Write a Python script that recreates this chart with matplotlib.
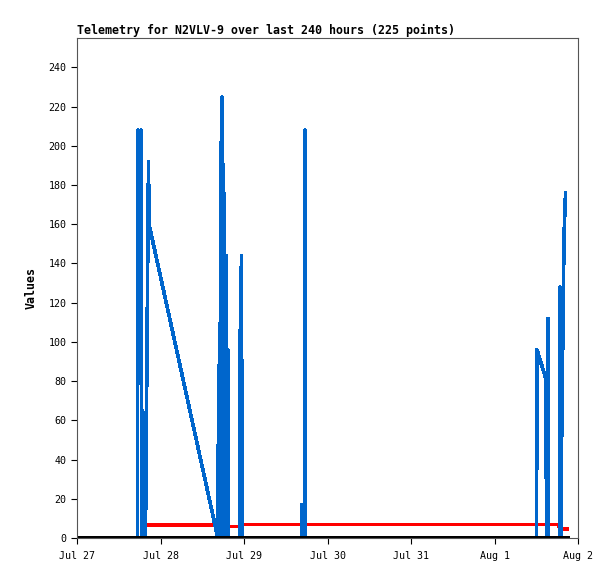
import numpy as np
import pandas as pd
import matplotlib
matplotlib.use('Agg')
import matplotlib.pyplot as plt

inicio = pd.Timestamp('2023-07-27 00:00')

# horas desde Jul 27 00:00 e valores da serie azul
horas_azul = [17.39, 17.53, 17.96, 18.40, 18.68, 19.55, 19.55, 19.69, 20.55, 20.70,
              40.24, 40.38, 40.82, 41.10, 41.25, 41.68, 41.96, 42.11, 42.25, 42.54,
              42.83, 42.97, 43.40, 43.55, 46.85, 46.85, 47.28, 47.43,
              64.53, 64.67, 64.82, 65.53, 65.53, 65.68,
              132.07, 132.22, 134.80, 134.95, 135.38, 135.52,
              138.69, 138.83, 139.12, 139.12, 139.40, 139.69, 139.98, 140.41]
valores_azul = [0, 208, 200, 208, 0, 0, 64, 3, 192, 160,
                2, 0, 88, 0, 176, 225, 176, 0, 176, 0,
                144, 0, 96, 0, 0, 96, 144, 0,
                0, 17, 0, 0, 208, 0,
                0, 96, 81, 0, 112, 0,
                0, 128, 0, 22, 66, 110, 154, 176]

horas_verm = [18.97, 40.24, 40.53, 47.43, 47.71, 138.54, 138.69, 140.84]
valores_verm = [6.6, 6.6, 5.8, 5.8, 6.8, 6.8, 4.6, 4.6]

horas_preto = [-10, 140.84]
valores_preto = [0, 0]

dias = ['Jul 27', 'Jul 28', 'Jul 29', 'Jul 30', 'Jul 31', 'Aug 1', 'Aug 2']

def para_data(horas):
    return inicio + pd.to_timedelta(horas, unit='h')

fig = plt.figure(figsize=(6.15, 5.79), dpi=100)
ax = fig.add_axes([77/615, 41/579, 501/615, 500/579])

ax.plot(para_data(horas_verm), valores_verm, color='#ff0000', lw=1.9, antialiased=False)
ax.plot(para_data(horas_azul), valores_azul, color='#0066cc', lw=1.9, antialiased=False)
ax.plot(para_data(horas_preto), valores_preto, color='black', lw=2.2, antialiased=False)

ax.set_xlim(inicio, inicio + pd.Timedelta(days=6))
ax.set_ylim(0, 255)
ax.set_yticks(range(0, 241, 20))
ax.set_xticks([inicio + pd.Timedelta(days=i) for i in range(7)])
ax.set_xticklabels(dias)

for lado in ['top', 'right', 'left', 'bottom']:
    ax.spines[lado].set_color('#555555')
    ax.spines[lado].set_linewidth(0.8)
ax.tick_params(axis='both', length=4.5, width=0.8, color='black', labelsize=7.2)
ax.tick_params(axis='y', pad=3)
ax.tick_params(axis='x', pad=5)
for lbl in ax.get_xticklabels() + ax.get_yticklabels():
    lbl.set_family('DejaVu Sans Mono')

ax.set_title('Telemetry for N2VLV-9 over last 240 hours (225 points)', loc='left',
             fontsize=8.4, fontweight='bold', family='DejaVu Sans Mono', pad=3)
ax.set_ylabel('Values', fontsize=8.4, fontweight='bold', family='DejaVu Sans Mono', labelpad=8)

fig.savefig('out.png', dpi=100)
